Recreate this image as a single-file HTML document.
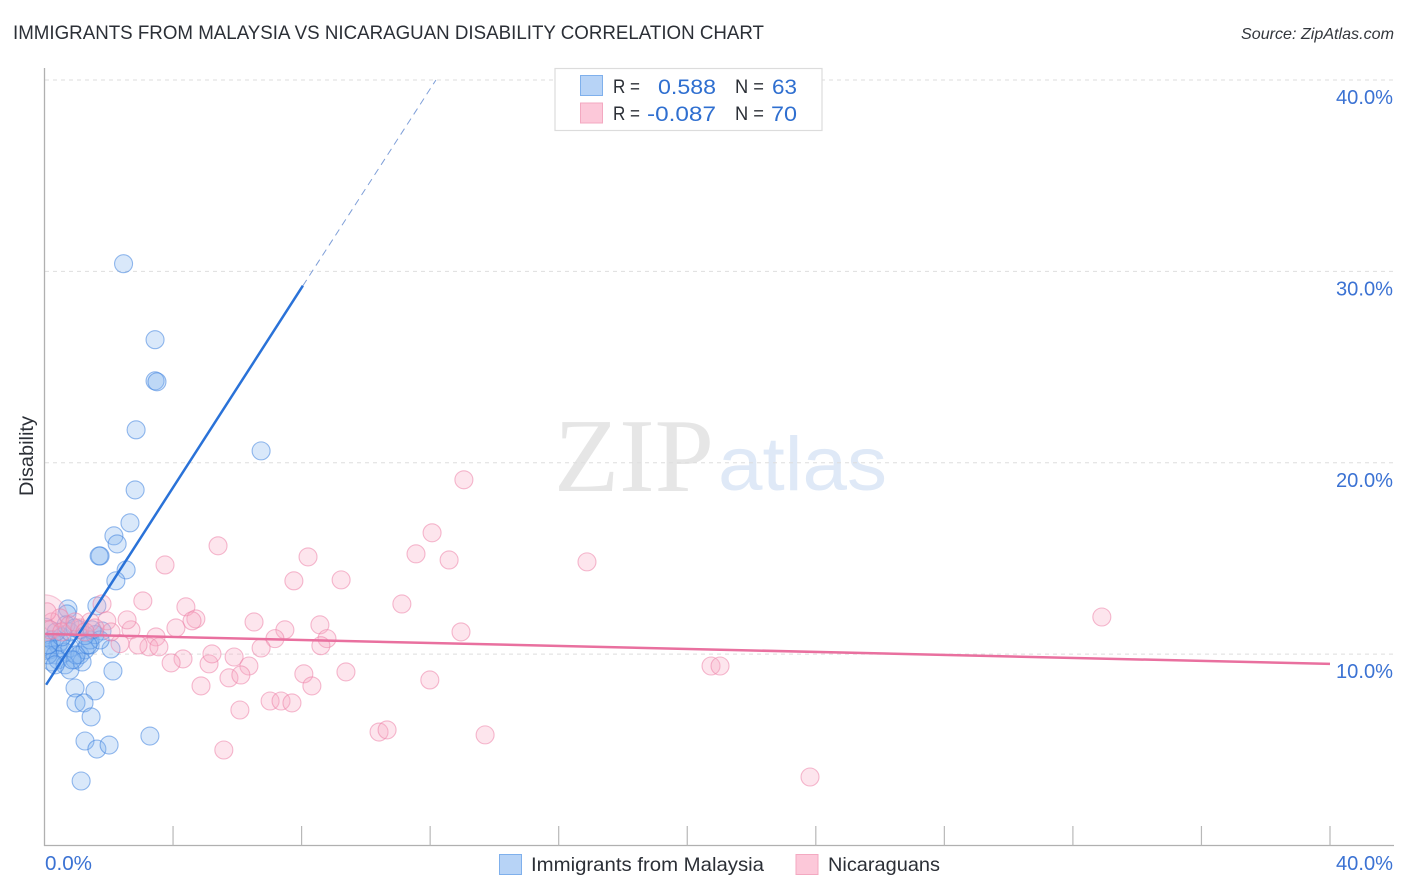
<!DOCTYPE html>
<html lang="en">
<head>
<meta charset="utf-8">
<title>Immigrants from Malaysia vs Nicaraguan Disability Correlation Chart</title>
<style>
html,body{margin:0;padding:0;background:#fff;width:1406px;height:892px;overflow:hidden}
svg{display:block}
text{font-family:"Liberation Sans",sans-serif}
</style>
</head>
<body>
<svg id="chart" width="1406" height="892" viewBox="0 0 1406 892" xmlns="http://www.w3.org/2000/svg">
  <defs>
    <clipPath id="plot-clip"><rect x="45" y="60" width="1349" height="785"/></clipPath>
  </defs>
  <text x="13" y="39" font-size="19.5" fill="#2b2f36" textLength="751" lengthAdjust="spacingAndGlyphs">IMMIGRANTS FROM MALAYSIA VS NICARAGUAN DISABILITY CORRELATION CHART</text>
  <text x="1241" y="39" font-size="16" font-style="italic" fill="#33373d" textLength="153" lengthAdjust="spacingAndGlyphs">Source: ZipAtlas.com</text>

  <g>
    <text x="554" y="491" font-size="105" fill="#e6e6e6" textLength="160" lengthAdjust="spacingAndGlyphs" style="font-family:'Liberation Serif',serif">ZIP</text>
    <text x="718" y="490" font-size="76" fill="#dfe9f7" textLength="169" lengthAdjust="spacingAndGlyphs">atlas</text>
  </g>

  <g id="grid"></g>
  <g id="axes">
    <line x1="44.5" y1="68" x2="44.5" y2="846" stroke="#b0b0b0" stroke-width="1.3"/>
    <line x1="44" y1="845.5" x2="1394" y2="845.5" stroke="#b0b0b0" stroke-width="1.3"/>
  </g>
  <g id="pts-blue" clip-path="url(#plot-clip)"></g>
  <g id="pts-pink" clip-path="url(#plot-clip)"></g>
  <g id="trends"></g>
  <g id="labels"></g>

  <text transform="translate(33,456) rotate(-90)" font-size="19" fill="#2b2f36" text-anchor="middle" textLength="80" lengthAdjust="spacingAndGlyphs">Disability</text>

  <g>
    <rect x="555" y="68.5" width="267" height="62" fill="#fff" stroke="#dcdcdc" stroke-width="1.2"/>
    <rect x="580.5" y="75.5" width="22" height="20" fill="#b7d3f6" stroke="#7fb0ec" stroke-width="1"/>
    <rect x="580.5" y="103" width="22" height="20" fill="#fcc8d9" stroke="#f3a9c1" stroke-width="1"/>
    <text x="613" y="93" font-size="19.5" fill="#2b2f36" textLength="27" lengthAdjust="spacingAndGlyphs">R =</text>
    <text x="658" y="94" font-size="21.5" fill="#2f6fd0" textLength="58" lengthAdjust="spacingAndGlyphs">0.588</text>
    <text x="735" y="93" font-size="19.5" fill="#2b2f36" textLength="29" lengthAdjust="spacingAndGlyphs">N =</text>
    <text x="772" y="94" font-size="21.5" fill="#2f6fd0" textLength="25" lengthAdjust="spacingAndGlyphs">63</text>
    <text x="613" y="120" font-size="19.5" fill="#2b2f36" textLength="27" lengthAdjust="spacingAndGlyphs">R =</text>
    <text x="647" y="121" font-size="21.5" fill="#2f6fd0" textLength="69" lengthAdjust="spacingAndGlyphs">-0.087</text>
    <text x="735" y="120" font-size="19.5" fill="#2b2f36" textLength="29" lengthAdjust="spacingAndGlyphs">N =</text>
    <text x="771" y="121" font-size="21.5" fill="#2f6fd0" textLength="26" lengthAdjust="spacingAndGlyphs">70</text>
  </g>

  <g>
    <rect x="499.5" y="854.5" width="22" height="20" fill="#b7d3f6" stroke="#7fb0ec" stroke-width="1"/>
    <text x="531" y="871" font-size="19.5" fill="#2b2f36" textLength="233" lengthAdjust="spacingAndGlyphs">Immigrants from Malaysia</text>
    <rect x="796" y="854.5" width="22" height="20" fill="#fcc8d9" stroke="#f3a9c1" stroke-width="1"/>
    <text x="828" y="871" font-size="19.5" fill="#2b2f36" textLength="112" lengthAdjust="spacingAndGlyphs">Nicaraguans</text>
  </g>
</svg>
<script>
const yTickValues = [10, 20, 30, 40];
const yTickLabels = ["10.0%", "20.0%", "30.0%", "40.0%"];
const xTickValues = [4, 8, 12, 16, 20, 24, 28, 32, 36, 40];
const xEndValues = [0, 40];
const xEndLabels = ["0.0%", "40.0%"];

const blueX = [2.46,3.44,3.44,3.50,2.85,6.74,2.82,2.66,2.16,2.26,1.73,1.70,2.54,2.22,1.63,0.73,0.70,2.13,0.95,1.57,0.98,1.23,1.45,1.26,3.28,1.63,2.01,1.14,1.79,2.07,0.23,0.42,0.17,0.33,0.48,0.64,0.79,0.95,1.10,1.26,1.42,1.42,0.23,0.42,0.11,0.64,0.79,1.17,0.98,0.54,0.79,1.10,1.57,1.73,0.11,0.36,0.67,0.95,1.26,1.48,1.35,0.33,0.86];
const blueY = [30.40,26.43,24.28,24.23,21.72,20.62,18.58,16.86,16.18,15.76,15.13,15.13,14.40,13.83,12.52,12.36,12.10,9.12,8.23,8.08,7.45,7.45,6.72,5.46,5.72,5.04,5.25,3.37,11.21,10.27,10.74,10.48,10.22,9.96,10.64,10.11,10.32,9.70,9.96,10.22,10.48,10.74,9.59,9.70,9.96,9.44,9.17,9.59,9.96,10.90,11.16,11.27,11.02,10.74,10.48,11.16,11.53,11.37,10.97,11.27,10.48,9.44,9.70];

const pinkX = [13.05,12.06,11.56,12.59,16.88,5.40,3.75,8.20,7.76,9.23,11.12,32.90,3.06,4.40,4.71,4.59,6.52,8.57,7.48,12.96,1.79,4.09,2.69,2.57,1.94,3.47,8.79,8.60,7.17,6.74,3.25,3.56,2.91,2.35,2.07,4.31,3.94,5.12,5.21,5.90,6.36,9.38,8.07,4.87,5.74,6.11,8.32,11.99,20.74,21.02,6.08,7.02,7.36,7.70,10.41,10.66,13.71,5.58,23.82,0.23,0.48,0.79,1.10,1.42,0.17,0.54,0.95,1.57,1.26,0.08];
const pinkY = [19.11,16.34,15.24,14.92,14.82,15.66,14.66,15.08,13.83,13.88,12.62,11.94,12.78,12.47,11.84,11.74,11.68,11.53,11.27,11.16,12.62,11.37,11.27,11.79,11.74,10.90,10.81,10.44,10.81,10.32,10.38,10.38,10.48,10.55,11.16,9.75,9.54,9.49,10.01,9.85,9.38,9.07,8.97,8.34,8.76,8.91,8.34,8.65,9.38,9.38,7.08,7.55,7.55,7.45,5.93,6.04,5.78,4.99,3.58,11.68,11.89,11.53,11.37,11.68,11.27,11.16,11.68,11.37,11.16,12.21];

const bigBlueX = [0, 0];
const bigBlueY = [11.2, 10.4];
const bigPinkX = [0];
const bigPinkY = [11.9];

const blueTrendX = [0.05, 8.04];
const blueTrendY = [8.4, 29.25];
const blueDashX = [8.04, 12.18];
const blueDashY = [29.25, 40];
const pinkTrendX = [0.02, 40];
const pinkTrendY = [11.05, 9.49];

const xScale = v => 44.5 + v * (1285.5 / 40);
const yScale = v => 845.5 - v * (765.5 / 40);
const NS = "http://www.w3.org/2000/svg";
function make(tag, parentId, attrs) {
  const el = document.createElementNS(NS, tag);
  Object.keys(attrs).forEach(k => el.setAttribute(k, attrs[k]));
  document.getElementById(parentId).appendChild(el);
  return el;
}

yTickValues.forEach((v, i) => {
  const g = make("line", "grid", {x1: 45, x2: 1394, y1: yScale(v), y2: yScale(v), stroke: "#dedede", "stroke-width": 1, "stroke-dasharray": "4 4"});
  
  
  const t = make("text", "labels", {x: 1393, y: yScale(v) + 24, "font-size": 20, fill: "#3b72d3", "text-anchor": "end", textLength: 57, lengthAdjust: "spacingAndGlyphs"});
  t.textContent = yTickLabels[i];
  
  
});

xTickValues.forEach(v => {
  const l = make("line", "axes", {x1: xScale(v), x2: xScale(v), y1: 826, y2: 845.5, stroke: "#b8b8b8", "stroke-width": 1.2});
  
  
});

xEndValues.forEach((v, i) => {
  const t = make("text", "labels", {x: i === 0 ? xScale(v) + 0.5 : 1336, y: 870, "font-size": 20, fill: "#3b72d3", textLength: i === 0 ? 47 : 57, lengthAdjust: "spacingAndGlyphs"});
  t.textContent = xEndLabels[i];
  
  
});

function drawPoints(xs, ys, parentId, r, fill, stroke, name) {
  xs.forEach((x, i) => {
    const c = make("circle", parentId, {cx: xScale(x), cy: yScale(ys[i]), r: r, fill: fill, stroke: stroke, "stroke-width": 1.1});
    
    
  });
}
const blueFill = "rgba(130,178,240,0.3)", blueStroke = "rgba(62,130,222,0.55)";
const pinkFill = "rgba(248,170,196,0.3)", pinkStroke = "rgba(236,130,168,0.55)";
drawPoints(bigBlueX, bigBlueY, "pts-blue", 13, blueFill, blueStroke, "malaysia-large-point");
drawPoints(blueX, blueY, "pts-blue", 9, blueFill, blueStroke, "malaysia-point");
drawPoints(bigPinkX, bigPinkY, "pts-pink", 23, "rgba(248,170,196,0.28)", "rgba(236,130,168,0.4)", "nicaraguan-large-point");
drawPoints(pinkX, pinkY, "pts-pink", 9, pinkFill, pinkStroke, "nicaraguan-point");

function drawLine(xs, ys, stroke, width, dash, name) {
  const l = make("line", "trends", {x1: xScale(xs[0]), y1: yScale(ys[0]), x2: xScale(xs[1]), y2: yScale(ys[1]), stroke: stroke, "stroke-width": width});
  if (dash) l.setAttribute("stroke-dasharray", dash);
  
  
}
drawLine(blueDashX, blueDashY, "#7f9fd8", 1, "7 5", "malaysia-trend-projection");
drawLine(blueTrendX, blueTrendY, "#2a72d8", 2.5, null, "malaysia-trend-line");
drawLine(pinkTrendX, pinkTrendY, "#e9709f", 2.5, null, "nicaraguan-trend-line");
</script>
</body>
</html>
